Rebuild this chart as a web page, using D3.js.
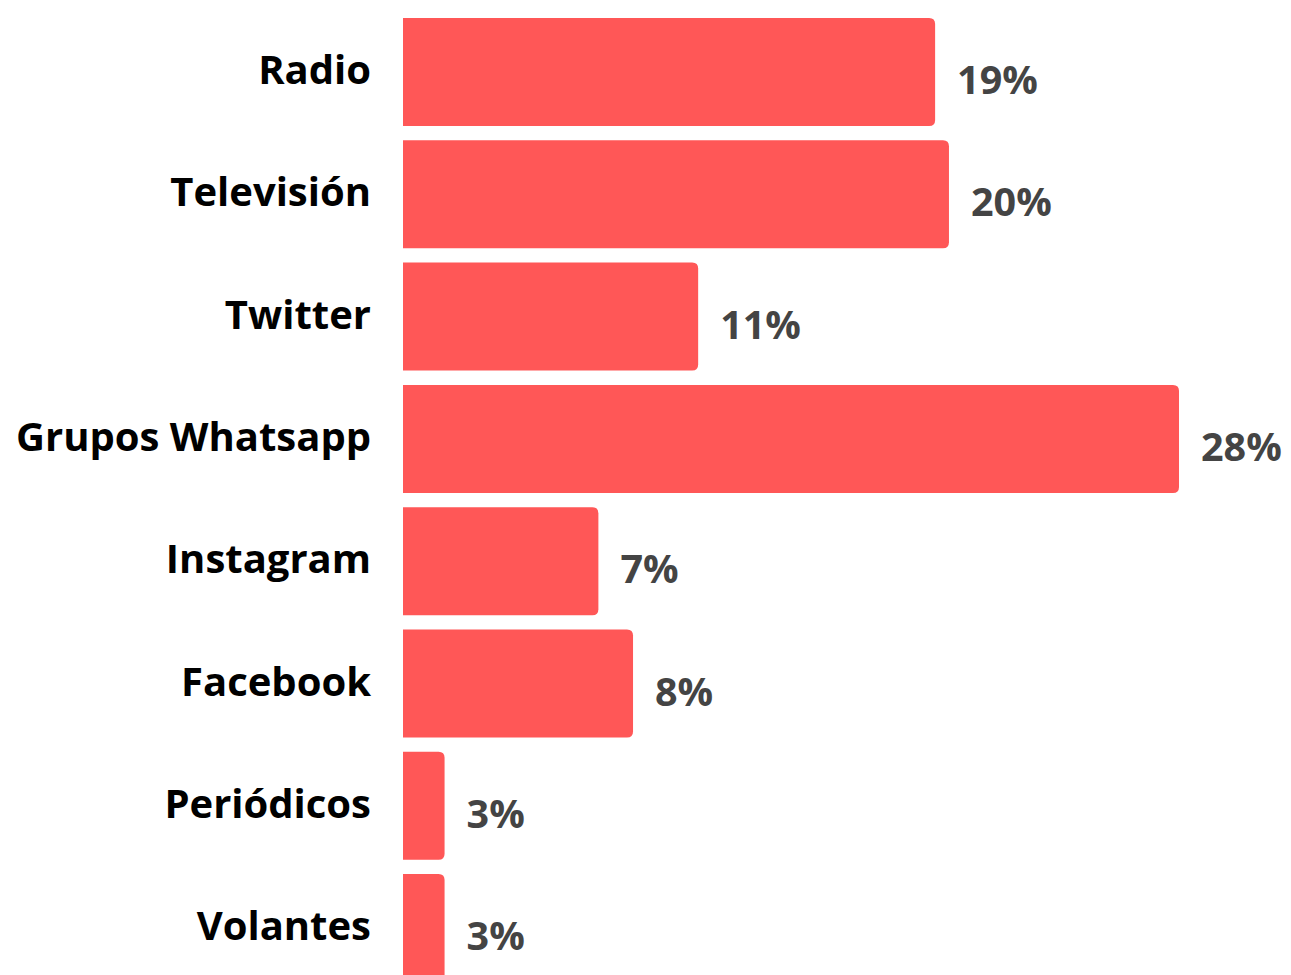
<!DOCTYPE html>
<html>
<head>
<meta charset="utf-8">
<script src="https://cdn.jsdelivr.net/npm/d3@7"></script>
<style>
  html, body { margin: 0; padding: 0; background: #ffffff; }
  svg { display: block; }
</style>
</head>
<body>
<svg id="chart" width="1291" height="975"></svg>
<script>
const categories = ["Radio", "Televisión", "Twitter", "Grupos Whatsapp", "Instagram", "Facebook", "Periódicos", "Volantes"];
// bar lengths as drawn
const values = [19.2, 19.7, 10.65, 28.0, 7.05, 8.3, 1.5, 1.5];
// printed value labels
const valueLabels = ["19%", "20%", "11%", "28%", "7%", "8%", "3%", "3%"];

const W = 1291, H = 975;
const svg = d3.select("#chart");

const x = d3.scaleLinear().domain([0, 28]).range([403, 1179]);
const y = d3.scaleBand().domain(categories).range([10.85, 989.25])
  .paddingInner(0.117).paddingOuter(0.0585);

const r = 6;
function barPath(x0, x1, y0, h) {
  const rr = Math.min(r, (x1 - x0) / 2, h / 2);
  return `M${x0},${y0}H${x1 - rr}Q${x1},${y0} ${x1},${y0 + rr}V${y0 + h - rr}Q${x1},${y0 + h} ${x1 - rr},${y0 + h}H${x0}Z`;
}

const data = categories.map((c, i) => ({ c, v: values[i], label: valueLabels[i] }));

svg.append("g").selectAll("path").data(data).join("path")
  .attr("d", d => barPath(x(0), x(d.v), y(d.c), y.bandwidth()))
  .attr("fill", "#FF5757");

svg.append("g").selectAll("text").data(data).join("text")
  .attr("x", 371)
  .attr("y", d => y(d.c) + y.bandwidth() / 2 - 2)
  .attr("dy", "0.35em")
  .attr("text-anchor", "end")
  .attr("font-family", "'Open Sans', sans-serif")
  .attr("font-weight", 700)
  .attr("font-size", 40)
  .attr("fill", "#000000")
  .text(d => d.c);

svg.append("g").selectAll("text").data(data).join("text")
  .attr("x", d => x(d.v) + 22)
  .attr("y", d => y(d.c) + y.bandwidth() / 2 + 22)
  .attr("text-anchor", "start")
  .attr("font-family", "'Open Sans', sans-serif")
  .attr("font-weight", 700)
  .attr("font-size", 39.5)
  .attr("fill", "#444444")
  .text(d => d.label);
</script>
</body>
</html>
